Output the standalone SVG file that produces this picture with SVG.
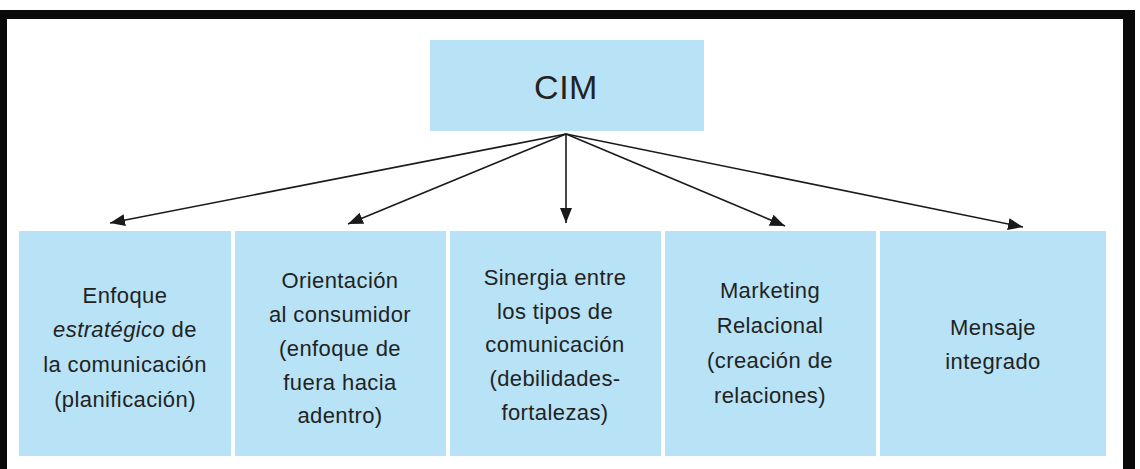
<svg xmlns="http://www.w3.org/2000/svg" width="1140" height="469" viewBox="0 0 1140 469">
<defs>
<marker id="ah" markerUnits="userSpaceOnUse" markerWidth="16" markerHeight="14" refX="15" refY="7" orient="auto">
<path d="M0,1 L15,7 L0,13 Z" fill="#1a1a1a"/>
</marker>
<style>
.box{fill:#b8e2f6;}
.t{font-family:"Liberation Sans",Arial,sans-serif;font-size:22px;fill:#222;text-anchor:middle;letter-spacing:0.4px;}
.big{font-size:34px;letter-spacing:0.5px;}
.conn{stroke:#1a1a1a;stroke-width:1.6;fill:none;marker-end:url(#ah);}
</style>
</defs>
<rect x="0" y="0" width="1140" height="469" fill="#ffffff"/>
<g id="frame">
<rect x="0" y="10" width="1135" height="9" fill="#0a0a0a"/>
<rect x="0" y="10" width="7" height="459" fill="#0a0a0a"/>
<rect x="1123" y="10" width="12" height="459" fill="#0a0a0a"/>
</g>
<g id="cim">
<rect class="box" x="430" y="40" width="274" height="91"/>
<text class="t big" x="566" y="99">CIM</text>
</g>
<g id="n1">
<rect class="box" x="19" y="231" width="212" height="225"/>
<text class="t" x="125" y="303">Enfoque</text>
<text class="t" x="125" y="337"><tspan font-style="italic">estratégico</tspan> de</text>
<text class="t" x="125" y="372">la comunicación</text>
<text class="t" x="125" y="407">(planificación)</text>
</g>
<g id="n2">
<rect class="box" x="235" y="231" width="211" height="225"/>
<text class="t" x="340" y="288">Orientación</text>
<text class="t" x="340" y="322">al consumidor</text>
<text class="t" x="340" y="356">(enfoque de</text>
<text class="t" x="340" y="390">fuera hacia</text>
<text class="t" x="340" y="423">adentro)</text>
</g>
<g id="n3">
<rect class="box" x="450" y="231" width="211" height="225"/>
<text class="t" x="555" y="285">Sinergia entre</text>
<text class="t" x="555" y="319">los tipos de</text>
<text class="t" x="555" y="352">comunicación</text>
<text class="t" x="555" y="386">(debilidades-</text>
<text class="t" x="555" y="420">fortalezas)</text>
</g>
<g id="n4">
<rect class="box" x="665" y="231" width="211" height="225"/>
<text class="t" x="770" y="298">Marketing</text>
<text class="t" x="770" y="333">Relacional</text>
<text class="t" x="770" y="368">(creación de</text>
<text class="t" x="770" y="403">relaciones)</text>
</g>
<g id="n5">
<rect class="box" x="880" y="231" width="226" height="225"/>
<text class="t" x="993" y="335">Mensaje</text>
<text class="t" x="993" y="369">integrado</text>
</g>
<g id="connectors">
<line class="conn" x1="566" y1="134" x2="110" y2="223"/>
<line class="conn" x1="566" y1="134" x2="348" y2="224"/>
<line class="conn" x1="566" y1="134" x2="566" y2="223"/>
<line class="conn" x1="566" y1="134" x2="785" y2="226"/>
<line class="conn" x1="566" y1="134" x2="1023" y2="227"/>
</g>
</svg>
